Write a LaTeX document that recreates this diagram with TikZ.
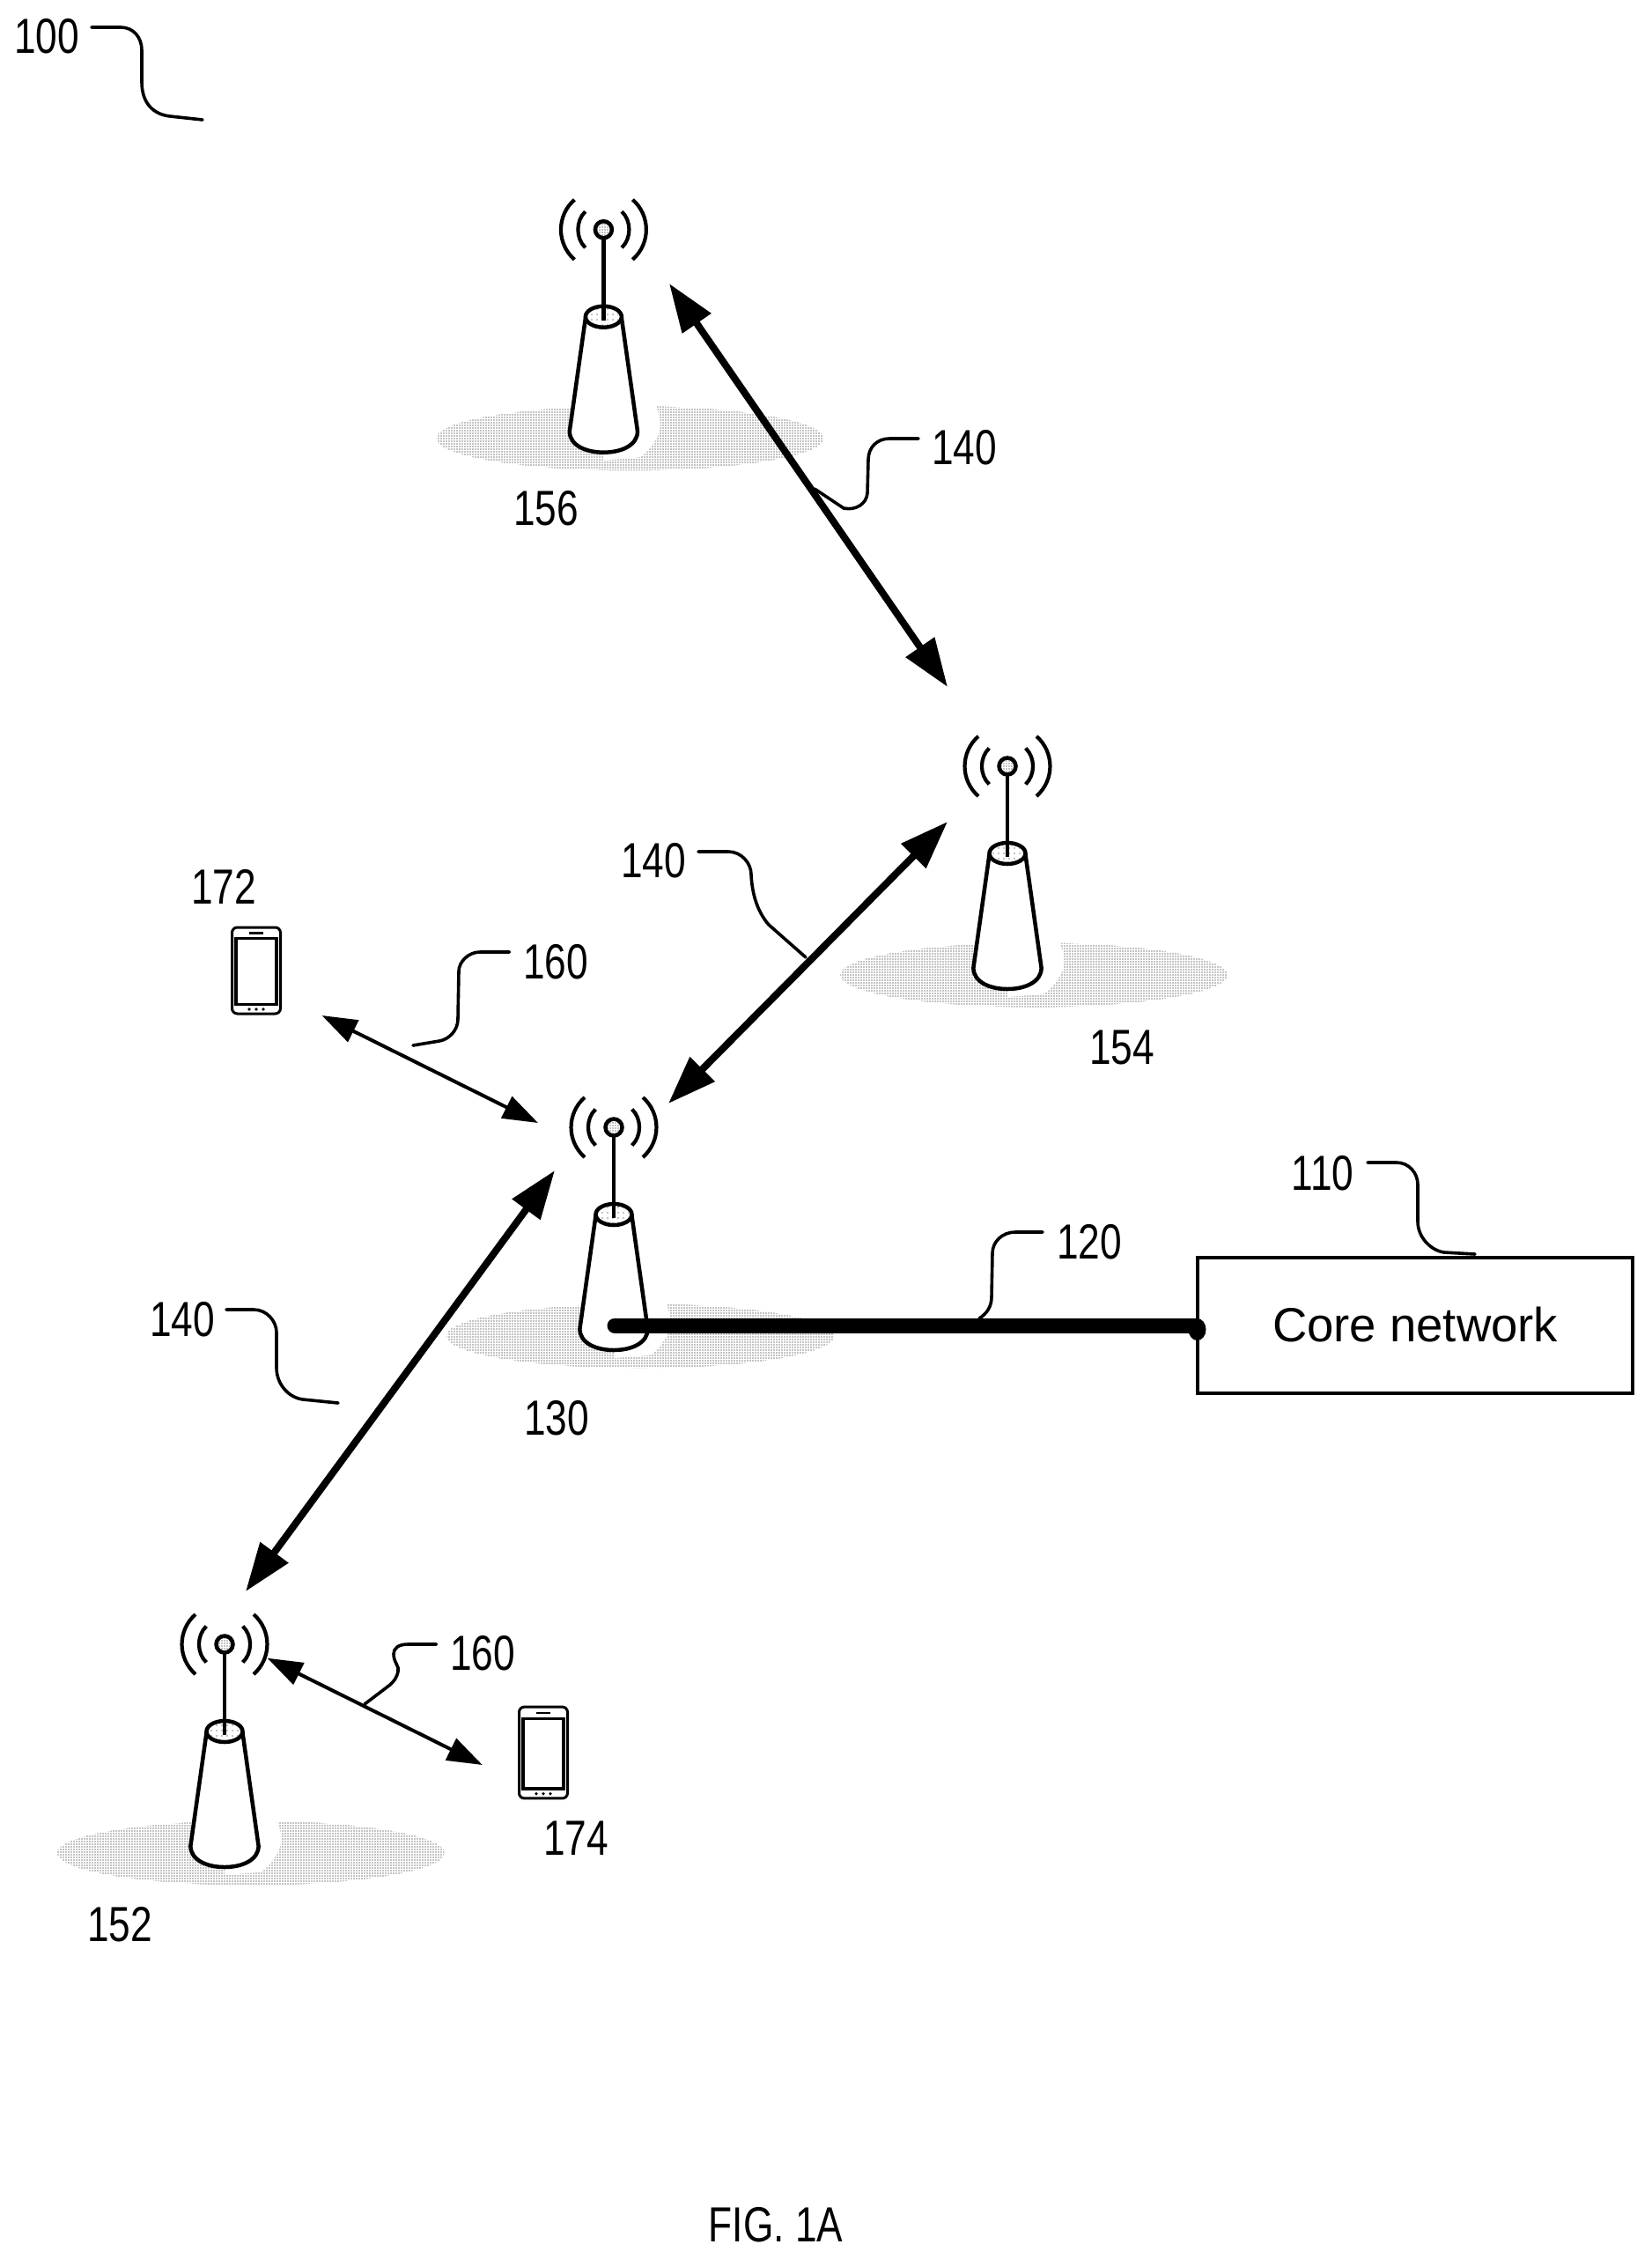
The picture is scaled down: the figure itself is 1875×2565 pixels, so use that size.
\documentclass[tikz,border=0pt]{standalone}
\usepackage{fontspec}
\setmainfont{Liberation Sans}
\newfontfamily\numfont[FakeStretch=0.79]{Liberation Sans}
\usetikzlibrary{arrows.meta,patterns.meta}
\tikzset{
  x=1pt,y=-1pt,
  numlabel/.style={inner sep=0pt,font=\numfont\fontsize{56}{60}\selectfont},
  leader/.style={line width=3.6pt,line cap=round},
  backhaul/.style={line width=8pt,{Triangle[length=55pt,width=38pt]}-{Triangle[length=55pt,width=38pt]}},
  access/.style={line width=4pt,{Triangle[length=40pt,width=27pt]}-{Triangle[length=40pt,width=27pt]}},
  halftone/.style={pattern={Dots[distance=3pt,radius=0.65pt]},pattern color=black},
  sparsedots/.style={pattern={Dots[distance=6pt,radius=0.6pt]},pattern color=black},
  tower/.pic={
    \path[halftone] (30,237) ellipse [x radius=220pt,y radius=36.5pt];
    \fill[white] (20,190) -- (58.6,199) .. controls (64,210) and (68,225) .. (59,239)
       .. controls (52,250) and (45,258) .. (38,259) -- (0,262) -- (0,190) -- cycle;
    \draw[line width=4.5pt,fill=white,line join=round] (-20.3,99) -- (-38.6,229)
       .. controls (-38.6,245) and (-20,253) .. (0,253)
       .. controls (20,253) and (38.6,245) .. (38.6,229) -- (20.3,99) -- cycle;
    \draw[line width=4.5pt,fill=white] (0,99) ellipse [x radius=20.5pt,y radius=12pt];
    \path[sparsedots] (0,99) ellipse [x radius=18pt,y radius=10pt];
    \draw[line width=4.5pt] (0,10) -- (0,103);
    \draw[line width=4.5pt,fill=white] (0,0) circle [radius=9.5pt];
    \path[halftone] (0,0) circle [radius=8pt];
    \draw[line width=4.2pt] (-33,-34) .. controls (-53.6,-16) and (-53.6,16) .. (-33,34);
    \draw[line width=4.2pt] (33,-34) .. controls (53.6,-16) and (53.6,16) .. (33,34);
    \draw[line width=4.2pt] (-20.7,-20.5) .. controls (-31.8,-10) and (-31.8,10) .. (-20.7,20.5);
    \draw[line width=4.2pt] (20.7,-20.5) .. controls (31.8,-10) and (31.8,10) .. (20.7,20.5);
  },
  phone/.pic={
    \draw[line width=3pt,rounded corners=6pt] (-27.5,-49) rectangle (27.5,49);
    \draw[line width=3.4pt] (-23,-36.5) rectangle (23,38.5);
    \draw[line width=2.4pt] (-8,-42.5) -- (8,-42.5);
    \fill (-8,44) circle [radius=1.8pt] (0,44) circle [radius=1.8pt] (8,44) circle [radius=1.8pt];
  },
}
\begin{document}
\begin{tikzpicture}
\path[use as bounding box,fill=white] (0,0) rectangle (1875,2565);

% towers and phones
\pic (t156) at (685.4,260.7) {tower};
\pic (t154) at (1144,870) {tower};
\pic (t130) at (697,1280) {tower};
\pic (t152) at (255,1867) {tower};
\pic (p172) at (291,1102) {phone};
\pic (p174) [yscale=1.06] at (617,1990) {phone};

% core network
\node[draw,line width=4.2pt,minimum width=494pt,minimum height=154pt,inner sep=0pt,anchor=north west,
      font=\fontsize{54.5}{60}\selectfont] (core) at (1358,1426) {\raisebox{3pt}{Core network}};

% labels
\node[numlabel] (n100) at (53,41) {100};
\node[numlabel] (n156) at (620,577) {156};
\node[numlabel] (n140a) at (1095,508) {140};
\node[numlabel] (n154) at (1274,1189) {154};
\node[numlabel] (n140b) at (742,977) {140};
\node[numlabel] (n172) at (254,1007) {172};
\node[numlabel] (n160a) at (631,1092) {160};
\node[numlabel] (n130) at (632,1610) {130};
\node[numlabel] (n120) at (1237,1410) {120};
\node[numlabel] (n110) at (1502,1332) {110};
\node[numlabel] (n140c) at (207,1498) {140};
\node[numlabel] (n160b) at (548,1877) {160};
\node[numlabel] (n174) at (654,2087) {174};
\node[numlabel] (n152) at (136,2185) {152};
\node[numlabel] (fig) at (881,2526) {FIG. 1A};

% arrow ends
\coordinate (a1s) at (760,322);
\coordinate (a1e) at (1076,780);
\coordinate (a2s) at (1076,933);
\coordinate (a2e) at (759,1253);
\coordinate (a3s) at (630,1329);
\coordinate (a3e) at (279,1807);
\coordinate (a4s) at (365.5,1153);
\coordinate (a4e) at (611,1275);
\coordinate (a5s) at (303.6,1882.7);
\coordinate (a5e) at (547.8,2004);
\coordinate (lineL) at (698,1505);

\draw[backhaul] (a1s) -- (a1e);
\draw[backhaul] (a2s) -- (a2e);
\draw[backhaul] (a3s) -- (a3e);
\draw[access] (a4s) -- (a4e);
\draw[access] (a5s) -- (a5e);

% backhaul to core
\draw[line width=17pt,line cap=round] (lineL) -- (lineL -| core.west);
\fill (1359.5,1509.5) ellipse [x radius=10pt,y radius=12.5pt];

% leaders
\coordinate (l100a) at (104,31); \coordinate (l100b) at (230,136);
\draw[leader] (l100a) -- (137,31) .. controls (152,31) and (161,43) .. (161,57) -- (161,93)
   .. controls (161,118) and (175,130) .. (193,132) -- (l100b);
\coordinate (l140aa) at (1043,498); \coordinate (l140ab) at (925,555);
\draw[leader] (l140aa) -- (1010,498) .. controls (996,498) and (986,508) .. (986,522) -- (985,560)
   .. controls (984,572) and (972,580) .. (958,577) -- (l140ab);
\coordinate (l140ba) at (793,967); \coordinate (l140bb) at (915,1087);
\draw[leader] (l140ba) -- (827,967) .. controls (842,967) and (853,980) .. (853,993)
   .. controls (854,1015) and (860,1035) .. (873,1050) -- (l140bb);
\coordinate (l140ca) at (257,1487); \coordinate (l140cb) at (384,1593);
\draw[leader] (l140ca) -- (288,1487) .. controls (303,1487) and (314,1500) .. (314,1513) -- (314,1553)
   .. controls (314,1572) and (328,1587) .. (344,1589) -- (l140cb);
\coordinate (l120a) at (1184,1399); \coordinate (l120b) at (1112,1497);
\draw[leader] (l120a) -- (1153,1399) .. controls (1138,1399) and (1127,1410) .. (1127,1423) -- (1126,1473)
   .. controls (1126,1484) and (1120,1492) .. (l120b);
\coordinate (l110a) at (1553,1320); \coordinate (l110b) at (1675,1424);
\draw[leader] (l110a) -- (1586,1320) .. controls (1600,1320) and (1610,1332) .. (1610,1345) -- (1610,1387)
   .. controls (1610,1405) and (1625,1420) .. (1640,1422) -- (l110b);
\coordinate (l160aa) at (578.5,1081); \coordinate (l160ab) at (469,1187);
\draw[leader] (l160aa) -- (545,1081) .. controls (532,1081) and (521,1092) .. (521,1103) -- (520,1157)
   .. controls (520,1170) and (510,1180) .. (499,1182) -- (l160ab);
\coordinate (l160ba) at (495.5,1867); \coordinate (l160bb) at (414,1935);
\draw[leader] (l160ba) -- (463,1867) .. controls (452,1867) and (447,1872) .. (447,1878)
   .. controls (447,1888) and (454,1892) .. (452,1898) .. controls (450,1906) and (448,1908) .. (443,1913) -- (l160bb);
\end{tikzpicture}
\end{document}
